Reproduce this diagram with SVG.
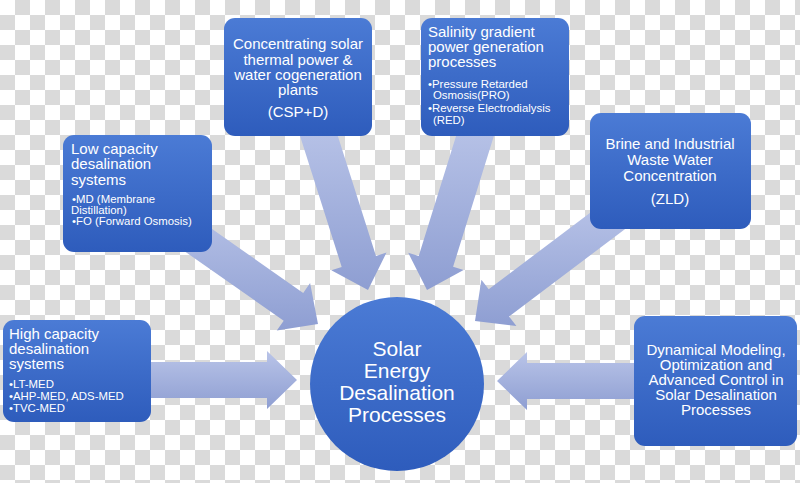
<svg xmlns="http://www.w3.org/2000/svg" width="800" height="483" viewBox="0 0 800 483">
<defs>
<pattern id="chk" width="30" height="30" patternUnits="userSpaceOnUse">
<rect width="30" height="30" fill="#ffffff"/>
<rect x="15" y="0" width="15" height="15" fill="#dadada"/>
<rect x="0" y="15" width="15" height="15" fill="#dadada"/>
</pattern>
<linearGradient id="boxg" x1="0" y1="0" x2="0" y2="1">
<stop offset="0" stop-color="#4b7bd5"/>
<stop offset="1" stop-color="#2e5cbc"/>
</linearGradient>
<linearGradient id="arrg" x1="0" y1="0" x2="0" y2="1">
<stop offset="0" stop-color="#b9c4e8"/>
<stop offset="1" stop-color="#8e9ed2"/>
</linearGradient>
</defs>
<style>
.box{fill:url(#boxg);}
.arr{fill:url(#arrg);}
text{font-family:"Liberation Sans",Arial,sans-serif;fill:#ffffff;}
.c{text-anchor:middle;font-size:15px;}
.l{font-size:15px;}
.s{font-size:11.4px;}
.big{text-anchor:middle;font-size:21px;}
</style>
<rect width="800" height="483" fill="url(#chk)"/>
<g id="connectors">
<polygon class="arr" points="140,398 267,398 267,409 297,380 267,351 267,362 140,362"/>
<polygon class="arr" points="645,363 527,363 527,352 497,381 527,410 527,399 645,399"/>
<polygon class="arr" points="298.3,130.5 341.7,266.9 331.3,270.2 368,290 386.5,252.6 376,255.9 332.6,119.5"/>
<polygon class="arr" points="461.2,119.6 418.7,256 408.2,252.8 427,290 463.6,270 453.1,266.8 495.6,130.4"/>
<polygon class="arr" points="152.6,228.9 283.7,320.7 276.8,330.6 318,324 310.1,283.1 303.2,292.9 172.2,201.1"/>
<polygon class="arr" points="608.4,199 488.7,289.3 481.4,279.8 475,321 516.4,326 509.1,316.5 628.8,226.2"/>
</g>
<g id="csp">
<rect class="box" x="224" y="18" width="148" height="118" rx="11"/>
<text class="c" x="298" y="49">Concentrating solar</text>
<text class="c" x="298" y="65">thermal power &amp;</text>
<text class="c" x="298" y="80">water cogeneration</text>
<text class="c" x="298" y="95">plants</text>
<text class="c" x="298" y="117">(CSP+D)</text>
</g>
<g id="salinity">
<rect class="box" x="421" y="18" width="148" height="118" rx="11"/>
<text class="l" x="428" y="37">Salinity gradient</text>
<text class="l" x="428" y="52">power generation</text>
<text class="l" x="428" y="67">processes</text>
<text class="s" x="428" y="88">•Pressure Retarded</text>
<text class="s" x="433" y="99">Osmosis(PRO)</text>
<text class="s" x="428" y="112">•Reverse Electrodialysis</text>
<text class="s" x="433" y="124">(RED)</text>
</g>
<g id="lowcap">
<rect class="box" x="63" y="135" width="149" height="117" rx="11"/>
<text class="l" x="71" y="154">Low capacity</text>
<text class="l" x="71" y="169">desalination</text>
<text class="l" x="71" y="185">systems</text>
<text class="s" x="72" y="203">•MD (Membrane</text>
<text class="s" x="71" y="214">Distillation)</text>
<text class="s" x="72" y="225">•FO (Forward Osmosis)</text>
</g>
<g id="brine">
<rect class="box" x="590" y="113" width="161" height="116" rx="11"/>
<text class="c" x="670" y="149">Brine and Industrial</text>
<text class="c" x="670" y="165">Waste Water</text>
<text class="c" x="670" y="181">Concentration</text>
<text class="c" x="670" y="204">(ZLD)</text>
</g>
<g id="highcap">
<rect class="box" x="3" y="320" width="148" height="102" rx="11"/>
<text class="l" x="9" y="339">High capacity</text>
<text class="l" x="9" y="354">desalination</text>
<text class="l" x="9" y="369">systems</text>
<text class="s" x="9" y="388">•LT-MED</text>
<text class="s" x="9" y="400">•AHP-MED, ADS-MED</text>
<text class="s" x="9" y="412">•TVC-MED</text>
</g>
<g id="dynamical">
<rect class="box" x="634" y="316" width="163" height="130" rx="11"/>
<text class="c" x="716" y="355">Dynamical Modeling,</text>
<text class="c" x="716" y="370">Optimization and</text>
<text class="c" x="716" y="385">Advanced Control in</text>
<text class="c" x="716" y="400">Solar Desalination</text>
<text class="c" x="716" y="415">Processes</text>
</g>
<g id="center">
<circle class="box" cx="397" cy="384" r="87"/>
<text class="big" x="397" y="356">Solar</text>
<text class="big" x="397" y="378">Energy</text>
<text class="big" x="397" y="400">Desalination</text>
<text class="big" x="397" y="422">Processes</text>
</g>
</svg>
